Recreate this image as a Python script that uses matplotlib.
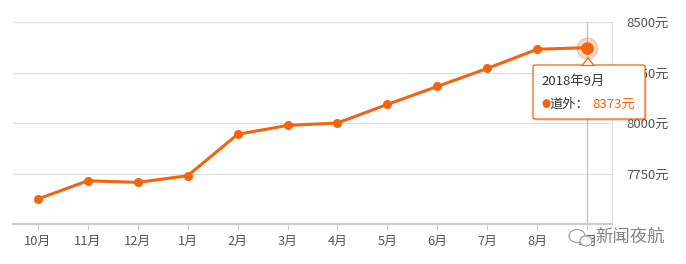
import matplotlib
matplotlib.use("Agg")
import matplotlib.pyplot as plt
from matplotlib.patches import FancyBboxPatch, Polygon, Ellipse

plt.rcParams['font.family'] = ['Noto Sans CJK SC', 'DejaVu Sans']

# data
months = ['10月', '11月', '12月', '1月', '2月', '3月', '4月', '5月', '6月', '7月', '8月', '9月']
prices = [7624, 7714, 7706, 7739, 7944, 7988, 8000, 8092, 8181, 8270, 8365, 8373]
y_ticks = [7750, 8000, 8250, 8500]
y_labels = ['7750元', '8000元', '8250元', '8500元']

orange = '#f5630c'
W, H = 686, 264
fig = plt.figure(figsize=(W / 100, H / 100), dpi=100)
ax = fig.add_axes([13 / W, 40 / H, (612 - 13) / W, (224 - 22) / H])

x = list(range(len(months)))
ax.set_xlim(-0.5, len(months) - 0.5)
ax.set_ylim(7500, 8500)

for v in y_ticks:
    ax.axhline(v, color='#dcdcdc', lw=0.8, zorder=0)

for s in ['top', 'left']:
    ax.spines[s].set_visible(False)
ax.spines['right'].set_color('#dcdcdc')
ax.spines['right'].set_linewidth(0.8)
ax.spines['bottom'].set_color('#cccccc')
ax.spines['bottom'].set_linewidth(1.6)

ax.set_xticks(x)
ax.set_xticklabels(months, fontsize=9.3, color='#555555')
ax.tick_params(axis='x', length=4, color='#cccccc', pad=4)
ax.yaxis.tick_right()
ax.set_yticks(y_ticks)
ax.set_yticklabels(y_labels, fontsize=9.5, color='#555555')
ax.tick_params(axis='y', length=0, pad=10)

# crosshair on last point
ax.axvline(x[-1], color='#bbbbbb', lw=0.8, zorder=1)

ax.plot(x, prices, color=orange, lw=2.2, marker='o', markersize=5.5, zorder=3)
ax.plot(x[-1], prices[-1], 'o', color=orange, markersize=15, alpha=0.25, zorder=2)
ax.plot(x[-1], prices[-1], 'o', color=orange, markersize=8, zorder=4)

# tooltip
bx0, by0, bx1, by1 = 533, 65, 645, 119
def fc(px, py):
    return px / W, 1 - py / H
x0, y0 = fc(bx0, by1)
x1, y1 = fc(bx1, by0)
shadow = FancyBboxPatch((x0 + 0.003, y0 - 0.008), x1 - x0, y1 - y0,
                        boxstyle='round,pad=0,rounding_size=0.004',
                        transform=fig.transFigure, fc='#000000', alpha=0.12,
                        ec='none', zorder=9)
box = FancyBboxPatch((x0, y0), x1 - x0, y1 - y0,
                     boxstyle='round,pad=0,rounding_size=0.004',
                     transform=fig.transFigure, fc='white', ec=orange, lw=0.9, zorder=10)
fig.patches.extend([shadow, box])
tri = Polygon([fc(582, by0 + 0.5), fc(588, 58), fc(594, by0 + 0.5)], closed=True,
              transform=fig.transFigure, fc='white', ec=orange, lw=0.9, zorder=11)
fig.patches.append(tri)

fig.text(*fc(541, 81), '2018年9月', fontsize=9.5, color='#333333', va='center', zorder=13)
fig.text(*fc(541, 104), '●', fontsize=6.5, color=orange, va='center', zorder=13)
fig.text(*fc(549, 104), '道外：', fontsize=9.5, color='#333333', va='center', zorder=13)
fig.text(*fc(592, 104), '8373元', fontsize=9.5, color=orange, va='center', zorder=13)

# watermark (wechat-like icon + name)
for (cx, cy, w, h) in [(577, 236, 16, 13), (586, 241, 12, 10)]:
    e = Ellipse(fc(cx, cy), w / W, h / H, transform=fig.transFigure,
                fc='white', ec='#999999', lw=0.9, alpha=0.9)
    fig.patches.append(e)
fig.text(*fc(595, 237), '新闻夜航', fontsize=12.5, color='#777777', va='center', alpha=0.9)

fig.savefig('out.png', dpi=100)
